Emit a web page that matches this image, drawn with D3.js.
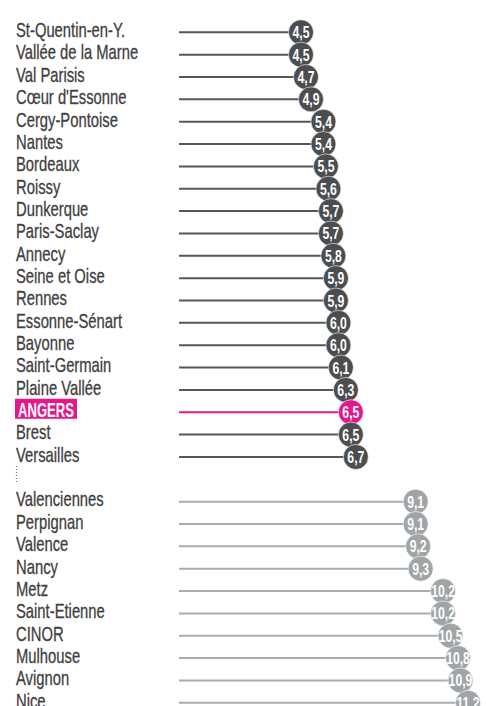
<!DOCTYPE html>
<html>
<head>
<meta charset="utf-8">
<script src="https://cdn.jsdelivr.net/npm/d3@7"></script>
<style>
body { margin: 0; background: #fff; }
</style>
</head>
<body>
<div id="chart"></div>
<script>
// rows of the top block, then the bottom block (a gap row in between)
var topNames = ["St-Quentin-en-Y.", "Vallée de la Marne", "Val Parisis", "Cœur d'Essonne", "Cergy-Pontoise",
	"Nantes", "Bordeaux", "Roissy", "Dunkerque", "Paris-Saclay", "Annecy", "Seine et Oise", "Rennes",
	"Essonne-Sénart", "Bayonne", "Saint-Germain", "Plaine Vallée", "ANGERS", "Brest", "Versailles"];
var topValues = [4.5, 4.5, 4.7, 4.9, 5.4, 5.4, 5.5, 5.6, 5.7, 5.7, 5.8, 5.9, 5.9, 6.0, 6.0, 6.1, 6.3, 6.5, 6.5, 6.7];

var bottomNames = ["Valenciennes", "Perpignan", "Valence", "Nancy", "Metz", "Saint-Etienne", "CINOR",
	"Mulhouse", "Avignon", "Nice"];
var bottomValues = [9.1, 9.1, 9.2, 9.3, 10.2, 10.2, 10.5, 10.8, 10.9, 11.2];

var highlight = "ANGERS";

var width = 486, height = 706;
var svg = d3.select("#chart").append("svg")
	.attr("width", width)
	.attr("height", height);

var data = [];
topNames.forEach(function(n, i) { data.push({name: n, value: topValues[i], row: i, group: "top"}); });
bottomNames.forEach(function(n, i) { data.push({name: n, value: bottomValues[i], row: topNames.length + 1 + i, group: "bottom"}); });

var x = d3.scaleLinear().domain([4.5, 11.2]).range([301, 468]);
var y = d3.scaleLinear().domain([0, 30]).range([32.3, 702.8]);
var lineStart = 179;
var font = "'Liberation Sans', Arial, sans-serif";

var fmt = function(v) { return d3.format(".1f")(v).replace(".", ","); };

function color(d) {
	if (d.name == highlight) return "#e5178b";
	return d.group == "top" ? "#4b4d4e" : "#a0a4a6";
}
function lineColor(d) {
	if (d.name == highlight) return "#e5178b";
	return d.group == "top" ? "#555758" : "#a9acae";
}

var lines = svg.append("g"), labels = svg.append("g"),
	dots = svg.append("g"), nums = svg.append("g");

lines.selectAll("line")
	.data(data)
	.enter()
	.append("line")
	.attr("x1", lineStart)
	.attr("x2", function(d) { return x(d.value); })
	.attr("y1", function(d) { return y(d.row); })
	.attr("y2", function(d) { return y(d.row); })
	.attr("stroke", lineColor)
	.attr("stroke-width", 2);

// highlight box behind the label
labels.selectAll("rect")
	.data(data.filter(function(d) { return d.name == highlight; }))
	.enter()
	.append("rect")
	.attr("x", 15)
	.attr("y", function(d) { return y(d.row) - 13.5; })
	.attr("width", 62)
	.attr("height", 20)
	.attr("fill", "#e5178b");

labels.selectAll("text")
	.data(data)
	.enter()
	.append("text")
	.attr("transform", function(d) { return "translate(" + (d.name == highlight ? 18 : 16) + "," + (y(d.row) + 4.8) + ") scale(0.74,1)"; })
	.attr("fill", function(d) { return d.name == highlight ? "#fff" : "#3f4041"; })
	.attr("stroke", function(d) { return d.name == highlight ? "none" : "#3f4041"; })
	.attr("stroke-width", 0.3)
	.attr("font-family", font)
	.attr("font-size", 20)
	.attr("font-weight", function(d) { return d.name == highlight ? "bold" : "normal"; })
	.text(function(d) { return d.name; })
	.each(function(d) {
		// squeeze the highlighted label so it sits inside its box
		if (d.name != highlight) return;
		var s = 56 / this.getComputedTextLength();
		d3.select(this).attr("transform", "translate(18," + (y(d.row) + 4.8) + ") scale(" + s + ",1)");
	});

dots.selectAll("circle")
	.data(data)
	.enter()
	.append("circle")
	.attr("cx", function(d) { return x(d.value); })
	.attr("cy", function(d) { return y(d.row); })
	.attr("r", 12.5)
	.attr("fill", color)
	.attr("stroke", "#fff")
	.attr("stroke-width", 0.6);

nums.selectAll("text")
	.data(data)
	.enter()
	.append("text")
	.attr("transform", function(d) { return "translate(" + x(d.value) + "," + (y(d.row) + 6) + ") scale(0.72,1)"; })
	.attr("text-anchor", "middle")
	.attr("fill", "#fff")
	.attr("font-family", font)
	.attr("font-weight", "bold")
	.attr("font-size", 17)
	.text(function(d) { return fmt(d.value); });

// dotted separator between the two blocks
svg.append("line")
	.attr("x1", 16.5).attr("x2", 16.5)
	.attr("y1", 466).attr("y2", 484)
	.attr("stroke", "#777")
	.attr("stroke-width", 1.2)
	.attr("stroke-dasharray", "1,2");
</script>
</body>
</html>
